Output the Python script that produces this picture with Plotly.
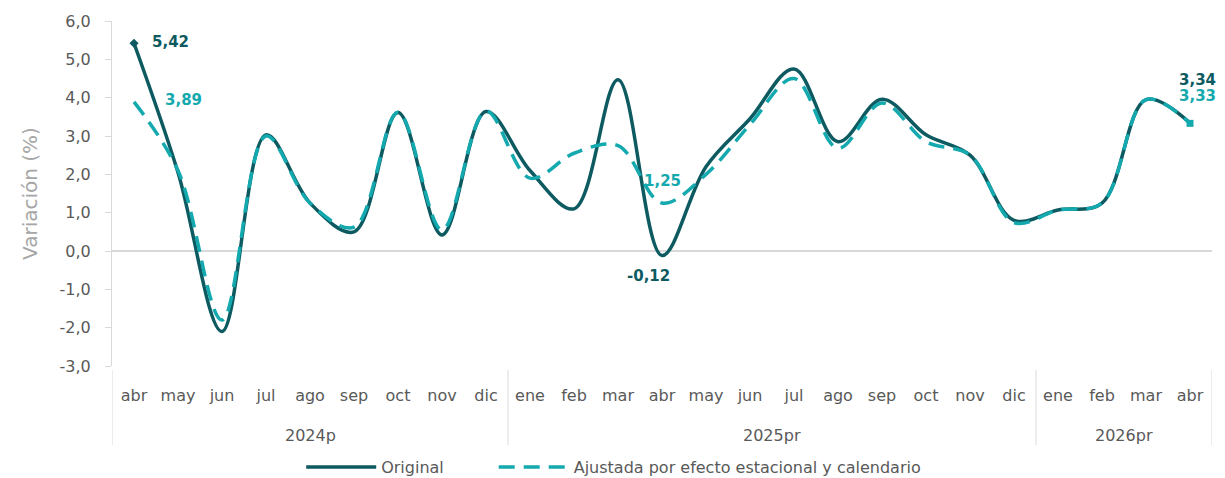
import plotly.graph_objects as go

years = ["2024p"] * 9 + ["2025pr"] * 12 + ["2026pr"] * 4
months = ["abr", "may", "jun", "jul", "ago", "sep", "oct", "nov", "dic",
          "ene", "feb", "mar", "abr", "may", "jun", "jul", "ago", "sep", "oct", "nov", "dic",
          "ene", "feb", "mar", "abr"]
original = [5.42, 2.05, -2.10, 3.03, 1.25, 0.50, 3.61, 0.42, 3.64,
            2.10, 1.10, 4.47, -0.12, 2.20, 3.45, 4.75, 2.85, 3.96, 3.03, 2.50, 0.80,
            1.07, 1.25, 3.95, 3.34]
ajustada = [3.89, 2.10, -1.80, 3.00, 1.25, 0.62, 3.62, 0.55, 3.65,
            1.90, 2.55, 2.75, 1.25, 2.00, 3.30, 4.50, 2.68, 3.86, 2.85, 2.50, 0.74,
            1.07, 1.25, 3.95, 3.33]
y_ticks = [-3, -2, -1, 0, 1, 2, 3, 4, 5, 6]

DARK = "#0D5A61"
LIGHT = "#14A9AE"
GRAY = "#595959"
LINEGRAY = "#D9D9D9"
FONT = "DejaVu Sans, sans-serif"

n = len(months)
xi = list(range(n))

fig = go.Figure()
fig.add_trace(go.Scatter(
    x=xi, y=original, name="Original", mode="lines", legend="legend",
    line=dict(color=DARK, width=3.5, shape="spline", smoothing=1.0),
))
fig.add_trace(go.Scatter(
    x=xi, y=ajustada, name="Ajustada por efecto estacional y calendario", mode="lines",
    legend="legend2",
    line=dict(color=LIGHT, width=3.5, shape="spline", smoothing=1.0, dash="16px,9px"),
))

# endpoint markers
fig.add_trace(go.Scatter(x=[xi[0]], y=[original[0]], mode="markers",
                         marker=dict(symbol="diamond", size=7, color=DARK),
                         showlegend=False, hoverinfo="skip"))
fig.add_trace(go.Scatter(x=[xi[-1]], y=[ajustada[-1]], mode="markers",
                         marker=dict(symbol="square", size=7, color=LIGHT),
                         showlegend=False, hoverinfo="skip"))

def fmt(v, d=2):
    return f"{v:.{d}f}".replace(".", ",")

ann = [
    (0, original[0], DARK, 36, 1),
    (0, ajustada[0], LIGHT, 49, 2),
    (12, original[12], DARK, -14, -20),
    (12, ajustada[12], LIGHT, 0, 22),
    (n - 1, original[-1], DARK, 7, 43),
    (n - 1, ajustada[-1], LIGHT, 7, 27),
]
for i, v, c, dx, dy in ann:
    fig.add_annotation(x=i, y=v, xref="x", yref="y", text=f"<b>{fmt(v)}</b>",
                       showarrow=False, xshift=dx, yshift=dy,
                       font=dict(family=FONT, size=15, color=c))

# year group labels and dividers
groups = []
for i, yv in enumerate(years):
    if not groups or groups[-1][0] != yv:
        groups.append([yv, i, i])
    else:
        groups[-1][2] = i
for name, a, b in groups:
    fig.add_annotation(x=(a + b) / 2, y=-0.2, xref="x", yref="paper", text=name,
                       showarrow=False, yanchor="middle",
                       font=dict(family=FONT, size=16, color=GRAY))
bounds = [groups[0][1] - 0.5] + [g[2] + 0.5 for g in groups]
for bx in bounds:
    fig.add_shape(type="line", x0=bx, x1=bx, y0=-0.012, y1=-0.229, xref="x", yref="paper",
                  line=dict(color=LINEGRAY, width=1))

leg_common = dict(orientation="h", xanchor="left", y=-0.293, yanchor="middle",
                  font=dict(family=FONT, size=16, color=GRAY), itemwidth=70,
                  bgcolor="rgba(0,0,0,0)")

# page body has an 8px margin, so the figure is 8px smaller than the window
fig.update_layout(
    width=1217, height=470,
    margin=dict(l=104, r=13, t=13, b=112, autoexpand=False),
    paper_bgcolor="white", plot_bgcolor="white",
    font=dict(family=FONT, color=GRAY, size=16),
    showlegend=True,
    legend=dict(x=0.172, **leg_common),
    legend2=dict(x=0.347, **leg_common),
)
fig.update_xaxes(
    range=[-0.5, n - 0.5], automargin=False,
    tickvals=xi, ticktext=months,
    showgrid=False, zeroline=False, showline=False,
    ticks="", ticklabelstandoff=18,
    tickfont=dict(family=FONT, size=16, color=GRAY),
)
fig.update_yaxes(
    range=[-3, 6], automargin=False,
    tickvals=y_ticks, ticktext=[fmt(t, 1) for t in y_ticks],
    showgrid=False,
    zeroline=True, zerolinecolor=LINEGRAY, zerolinewidth=1.5,
    showline=True, linecolor=LINEGRAY, linewidth=1,
    ticks="outside", ticklen=6, tickcolor=LINEGRAY,
    ticklabelstandoff=11,
    tickfont=dict(family=FONT, size=16, color=GRAY),
    title=dict(text="Variación (%)", font=dict(family=FONT, size=20, color="#A6A6A6"), standoff=16),
)

fig.write_html("out.html")
